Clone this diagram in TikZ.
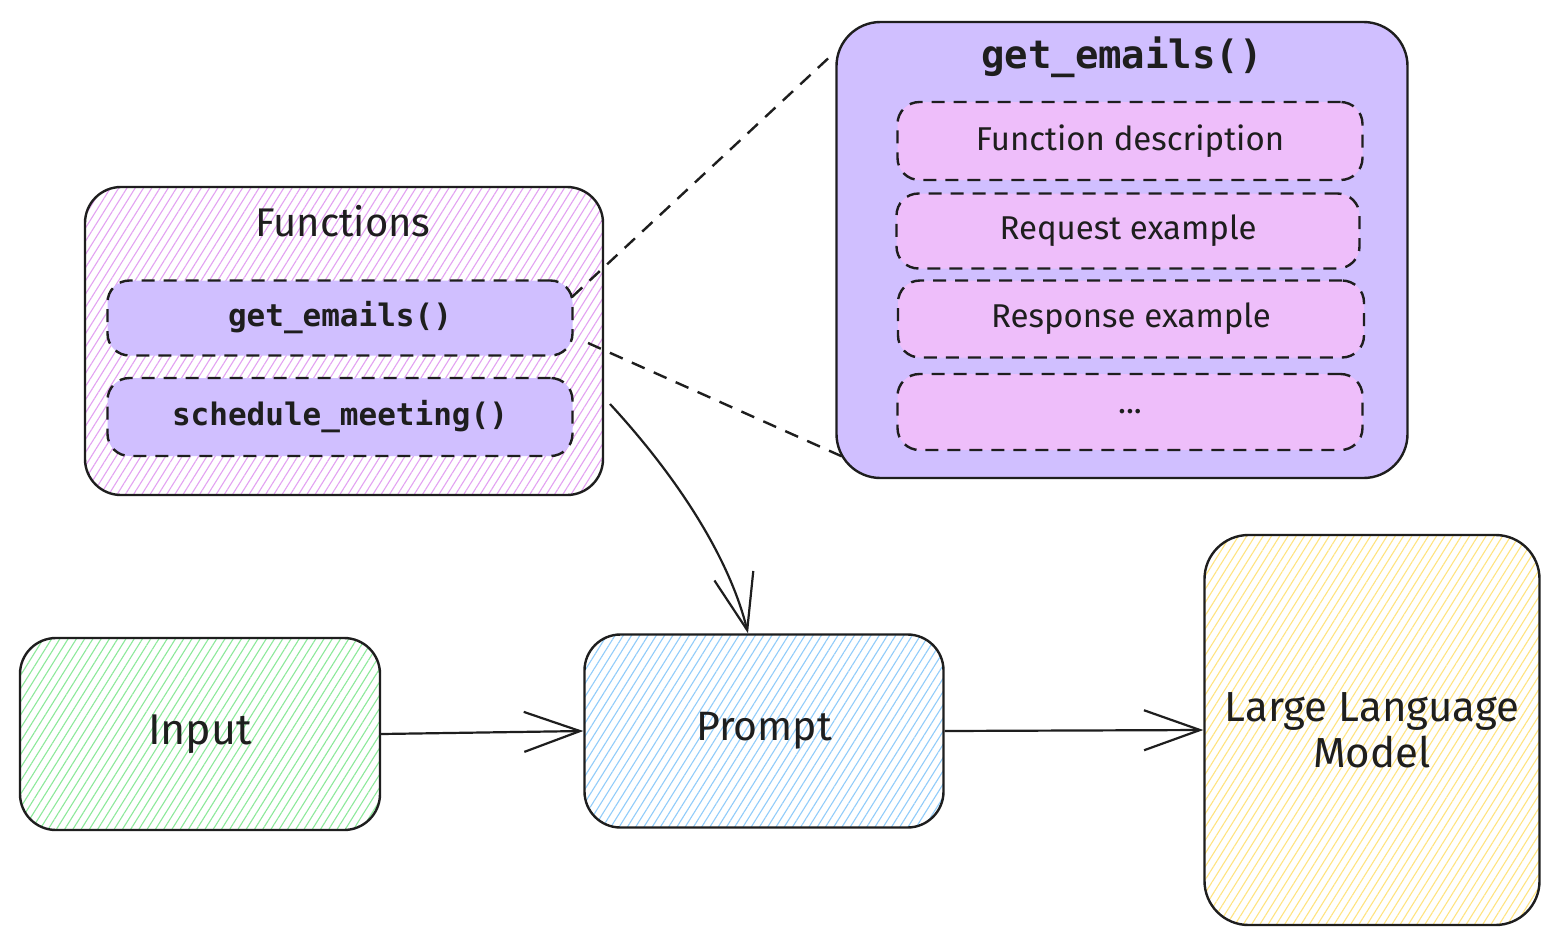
\documentclass[tikz,border=0pt]{standalone}
\usepackage{fontspec}
\setmainfont{Fira Sans}
\newfontfamily\codefont{DejaVu Sans Mono}
\usetikzlibrary{patterns.meta,arrows.meta}
\definecolor{violetfill}{HTML}{D0BFFF}
\definecolor{pinkfill}{HTML}{EEBEFA}
\definecolor{pinkhatch}{HTML}{E3A2F2}
\definecolor{greenhatch}{HTML}{8CE99A}
\definecolor{bluehatch}{HTML}{91CCFA}
\definecolor{yellowhatch}{HTML}{FFE480}
\definecolor{ink}{HTML}{1E1E1E}
\tikzset{
  sketch/.style={draw=ink, line width=2.4pt, rounded corners=36pt, inner sep=0pt},
  hatch/.style={pattern={Lines[angle=58,distance=7pt,line width=1.1pt]}, pattern color=#1},
  dashbox/.style={draw=ink, line width=2.4pt, dash pattern=on 13pt off 9pt, rounded corners=22pt, fill=#1, inner sep=0pt},
  codetxt/.style={font=\codefont\bfseries\fontsize{31}{36}\selectfont, text=ink},
  handtxt/.style={font=\fontsize{#1}{#1}\selectfont, text=ink},
  arr/.style={draw=ink, line width=2.2pt, -{Straight Barb[length=56pt,width=40pt,line width=2.2pt]}},
  link/.style={draw=ink, line width=2.4pt, dash pattern=on 14pt off 10pt}
}
\begin{document}
\begin{tikzpicture}[x=1pt,y=-1pt]
\useasboundingbox (0,0) rectangle (1559,946);
\fill[white] (0,0) rectangle (1559,946);

% Functions group
\node[sketch, hatch=pinkhatch, minimum width=518pt, minimum height=308pt] (func) at (344,341) {};
\node[handtxt=40] (functitle) at (343,221) {Functions};
\node[dashbox=violetfill, minimum width=465pt, minimum height=75pt] (ge) at (340,318) {};
\node[codetxt] at (ge.center) {get\_emails()};
\node[dashbox=violetfill, minimum width=465pt, minimum height=78pt] (sm) at (340,417) {};
\node[codetxt] at (sm.center) {schedule\_meeting()};

% get_emails detail
\node[sketch, fill=violetfill, rounded corners=44pt, minimum width=571pt, minimum height=456pt] (big) at (1122,250) {};
\node[font=\codefont\bfseries\fontsize{39}{44}\selectfont, text=ink] (bigtitle) at (1122,57) {get\_emails()};
\node[dashbox=pinkfill, minimum width=465pt, minimum height=78pt] (fd) at (1130,141) {};
\node[handtxt=33] at (fd.center) {Function description};
\node[dashbox=pinkfill, minimum width=463pt, minimum height=75pt] (rq) at (1128,231) {};
\node[handtxt=33] at (rq.center) {Request example};
\node[dashbox=pinkfill, minimum width=466pt, minimum height=77pt] (rs) at (1131,319) {};
\node[handtxt=33] at (rs.center) {Response example};
\node[dashbox=pinkfill, minimum width=465pt, minimum height=76pt] (dt) at (1130,412) {};
\node[handtxt=33] at (dt.center) {...};

% zoom lines
\coordinate (z1) at (572,297);
\coordinate (z2) at (835,52);
\coordinate (z3) at (588,343);
\coordinate (z4) at (850,460);
\draw[link] (z1) -- (z2);
\draw[link] (z3) -- (z4);

% bottom row
\node[sketch, hatch=greenhatch, minimum width=360pt, minimum height=192pt] (input) at (200,734) {};
\node[handtxt=43] at (input.center) {Input};
\node[sketch, hatch=bluehatch, minimum width=359pt, minimum height=193pt] (prompt) at (764,731) {};
\node[handtxt=41] at (prompt.center) {Prompt};
\node[sketch, hatch=yellowhatch, rounded corners=44pt, minimum width=335pt, minimum height=390pt] (llm) at (1372,730) {};
\node[align=center, text=ink, font=\fontsize{42}{46}\selectfont] at (1372,730) {Large Language\\Model};

% arrows
\coordinate (fstart) at (610,404);
\draw[arr] (fstart) .. controls (680,480) and (730,560) .. (prompt.north -| 748,0);
\draw[arr] (input.east) -- (prompt.west);
\draw[arr] (prompt.east) -- (llm.west);
\end{tikzpicture}
\end{document}
